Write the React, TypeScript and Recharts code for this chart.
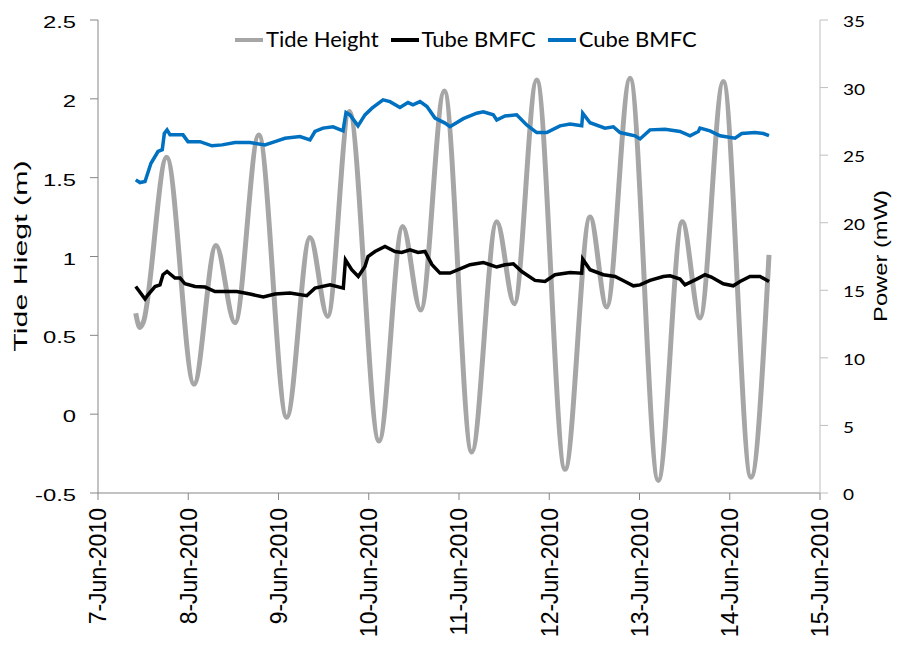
import React from 'react';
import { LineChart, Line, XAxis, YAxis, Legend } from 'recharts';

const dayTicks = [0, 1, 2, 3, 4, 5, 6, 7, 8];
const dateLabels = ['7-Jun-2010', '8-Jun-2010', '9-Jun-2010', '10-Jun-2010', '11-Jun-2010', '12-Jun-2010', '13-Jun-2010', '14-Jun-2010', '15-Jun-2010'];
const tideTicks = [-0.5, 0, 0.5, 1, 1.5, 2, 2.5];
const tideTickLabels = ['-0.5', '0', '0.5', '1', '1.5', '2', '2.5'];
const powerTicks = [0, 5, 10, 15, 20, 25, 30, 35];

// days after 7-Jun-2010 00:00
const tideDays = [0.418, 0.465, 0.5, 0.761, 1.064, 1.307, 1.518, 1.781, 2.091, 2.349, 2.545, 2.784, 3.114, 3.376, 3.576, 3.837, 4.141, 4.418, 4.613, 4.861, 5.175, 5.452, 5.637, 5.895, 6.208, 6.474, 6.67, 6.928, 7.235, 7.435];
const tideValues = [0.64, 0.55, 0.58, 1.63, 0.19, 1.07, 0.58, 1.77, -0.02, 1.12, 0.62, 1.92, -0.17, 1.19, 0.66, 2.05, -0.24, 1.22, 0.7, 2.12, -0.35, 1.25, 0.68, 2.13, -0.42, 1.22, 0.61, 2.11, -0.4, 1.01];

const tubeDays = [0.418, 0.521, 0.554, 0.632, 0.687, 0.72, 0.765, 0.853, 0.909, 0.964, 1.075, 1.186, 1.296, 1.537, 1.684, 1.832, 1.961, 2.127, 2.313, 2.404, 2.571, 2.718, 2.742, 2.811, 2.884, 2.958, 2.992, 3.069, 3.18, 3.291, 3.365, 3.457, 3.546, 3.623, 3.701, 3.789, 3.9, 4.122, 4.269, 4.343, 4.418, 4.51, 4.602, 4.695, 4.842, 4.953, 5.064, 5.23, 5.36, 5.371, 5.452, 5.599, 5.729, 5.839, 5.932, 6.006, 6.116, 6.264, 6.338, 6.449, 6.504, 6.634, 6.726, 6.796, 6.928, 7.039, 7.114, 7.224, 7.335, 7.435];
const tubeValues = [15.28, 14.35, 14.67, 15.28, 15.4, 16.15, 16.39, 15.9, 15.9, 15.48, 15.28, 15.24, 14.91, 14.91, 14.72, 14.5, 14.72, 14.79, 14.6, 15.16, 15.4, 15.16, 17.25, 16.52, 16.02, 16.76, 17.5, 17.87, 18.24, 17.87, 17.8, 18.0, 17.8, 17.87, 16.9, 16.27, 16.27, 16.89, 17.06, 16.89, 16.72, 16.89, 16.96, 16.39, 15.73, 15.65, 16.15, 16.32, 16.27, 17.3, 16.52, 16.15, 16.02, 15.65, 15.33, 15.4, 15.73, 16.02, 16.07, 15.83, 15.4, 15.83, 16.15, 15.98, 15.48, 15.33, 15.65, 16.02, 16.02, 15.65];

const cubeDays = [0.418, 0.465, 0.521, 0.587, 0.665, 0.712, 0.735, 0.765, 0.798, 0.942, 0.997, 1.13, 1.263, 1.374, 1.518, 1.684, 1.85, 1.961, 2.072, 2.238, 2.349, 2.404, 2.493, 2.604, 2.715, 2.748, 2.792, 2.881, 2.958, 3.036, 3.158, 3.235, 3.346, 3.435, 3.49, 3.568, 3.645, 3.734, 3.845, 3.9, 4.048, 4.196, 4.269, 4.38, 4.418, 4.51, 4.639, 4.75, 4.861, 4.972, 5.119, 5.23, 5.36, 5.371, 5.452, 5.618, 5.71, 5.784, 5.95, 6.006, 6.116, 6.283, 6.449, 6.56, 6.652, 6.67, 6.781, 6.892, 7.058, 7.133, 7.28, 7.372, 7.435];
const cubeValues = [23.17, 22.97, 23.05, 24.4, 25.27, 25.4, 26.6, 26.87, 26.5, 26.5, 26.0, 26.0, 25.69, 25.76, 25.93, 25.93, 25.76, 26.0, 26.25, 26.37, 26.13, 26.75, 27.0, 27.1, 26.8, 28.15, 27.98, 27.17, 27.98, 28.48, 29.09, 28.96, 28.52, 28.89, 28.72, 28.96, 28.6, 27.74, 27.37, 27.1, 27.7, 28.1, 28.2, 27.98, 27.6, 27.9, 27.98, 27.24, 26.67, 26.67, 27.17, 27.31, 27.17, 28.1, 27.4, 27.0, 27.1, 26.67, 26.43, 26.2, 26.87, 26.92, 26.75, 26.43, 26.75, 27.0, 26.8, 26.43, 26.25, 26.6, 26.67, 26.6, 26.45];

const seriesNames = ['Tide Height', 'Tube BMFC', 'Cube BMFC'];
const seriesColors = ['#A6A6A6', '#000000', '#0070C0'];

const toData = (days: number[], vals: number[]) => days.map((d, i) => ({ day: d, v: vals[i] }));
const tideData = toData(tideDays, tideValues);
const tubeData = toData(tubeDays, tubeValues);
const cubeData = toData(cubeDays, cubeValues);

const ARIAL = '"Liberation Sans", Arial, sans-serif';
const LATO = 'Lato, "Open Sans", sans-serif';

const LeftTick = (props: any) => {
  const { x, y, payload } = props;
  const idx = tideTicks.indexOf(payload.value);
  return (
    <text transform={`translate(${x - 14},${y + 2}) scale(1.4,1)`} textAnchor="end" dominantBaseline="central" fontFamily={ARIAL} fontSize={17} fill="#000">
      {tideTickLabels[idx] ?? String(payload.value)}
    </text>
  );
};

const RightTick = (props: any) => {
  const { x, y, payload } = props;
  return (
    <text transform={`translate(${x + 15},${y + 1.5}) scale(1.27,1)`} textAnchor="start" dominantBaseline="central" fontFamily={LATO} fontSize={15} fill="#000">
      {String(payload.value)}
    </text>
  );
};

const BottomTick = (props: any) => {
  const { x, payload } = props;
  const idx = dayTicks.indexOf(payload.value);
  return (
    <text transform={`translate(${x},508) rotate(-90)`} textAnchor="end" dy="0.36em" fontFamily={ARIAL} fontSize={23} fill="#000">
      {dateLabels[idx]}
    </text>
  );
};

const LeftLabel = () => (
  <text transform="translate(27,256) rotate(-90) scale(1.6,1)" textAnchor="middle" fontFamily={ARIAL} fontSize={19} fill="#000">
    Tide Hiegt (m)
  </text>
);

const RightLabel = () => (
  <text transform="translate(887,256) rotate(-90) scale(1.32,1)" textAnchor="middle" fontFamily={ARIAL} fontSize={18} fill="#000">
    Power (mW)
  </text>
);

const LegendContent = () => (
  <div style={{ position: 'relative', height: 0 }}>
    <div style={{ position: 'absolute', left: 235, top: 27, display: 'flex', alignItems: 'center', whiteSpace: 'nowrap' }}>
      {seriesNames.map((n, i) => (
        <div key={n} style={{ display: 'flex', alignItems: 'center', marginRight: 12 }}>
          <div style={{ width: 28, height: 4, background: seriesColors[i], marginRight: 3, marginTop: 1 }} />
          <span style={{ fontFamily: LATO, fontSize: 22, lineHeight: '24px', color: '#000' }}>{n}</span>
        </div>
      ))}
    </div>
  </div>
);

export default function App() {
  return (
    <div style={{ position: 'absolute', left: 0, top: 0, width: 900, height: 647, background: '#fff' }}>
      <LineChart width={900} height={647} margin={{ top: 20, right: 0, left: 0, bottom: 0 }}>
        <XAxis
          dataKey="day"
          type="number"
          domain={[0, 8]}
          ticks={dayTicks}
          interval={0}
          height={154}
          tickSize={7}
          tickMargin={0}
          stroke="#868686"
          tick={<BottomTick />}
          allowDataOverflow
        />
        <YAxis
          yAxisId="left"
          orientation="left"
          domain={[-0.5, 2.5]}
          ticks={tideTicks}
          interval={0}
          width={98}
          tickSize={8}
          tickMargin={0}
          stroke="#868686"
          tick={<LeftTick />}
          label={<LeftLabel />}
          allowDataOverflow
        />
        <YAxis
          yAxisId="right"
          orientation="right"
          domain={[0, 35]}
          ticks={powerTicks}
          interval={0}
          width={80}
          tickSize={8}
          tickMargin={0}
          stroke="#BFBFBF"
          tick={<RightTick />}
          label={<RightLabel />}
          allowDataOverflow
        />
        <Legend verticalAlign="top" content={<LegendContent />} wrapperStyle={{ top: 0, left: 0, width: 900, height: 0 }} />
        <Line yAxisId="left" data={tideData} dataKey="v" name={seriesNames[0]} type="monotone" stroke={seriesColors[0]} strokeWidth={5} dot={false} isAnimationActive={false} />
        <Line yAxisId="right" data={tubeData} dataKey="v" name={seriesNames[1]} type="linear" stroke={seriesColors[1]} strokeWidth={3.5} dot={false} isAnimationActive={false} />
        <Line yAxisId="right" data={cubeData} dataKey="v" name={seriesNames[2]} type="linear" stroke={seriesColors[2]} strokeWidth={3.5} dot={false} isAnimationActive={false} />
      </LineChart>
    </div>
  );
}
